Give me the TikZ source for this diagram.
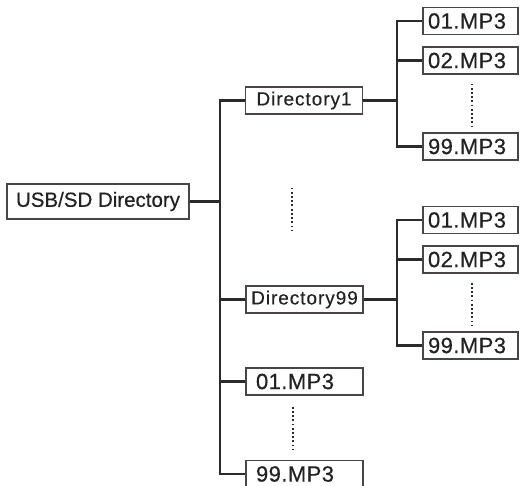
\documentclass[tikz,border=0pt]{standalone}
\usepackage{fontspec}
\setmainfont{Liberation Sans}
\newfontfamily\rootfont[FakeBold=0.4]{Liberation Sans}
\newfontfamily\mpfont[LetterSpace=2,FakeBold=0.4]{Liberation Sans}
\newfontfamily\dirfont[LetterSpace=5,FakeBold=0.3]{Liberation Sans}
\definecolor{boxcol}{HTML}{4A4444}
\definecolor{linecol}{HTML}{2B2B2B}
\definecolor{txtcol}{HTML}{222222}
\tikzset{
  boxbase/.style={draw=boxcol, line width=1.4pt, text=txtcol, fill=white},
  rootbox/.style={boxbase, minimum width=182pt, minimum height=35pt, inner sep=0pt, font=\rootfont\fontsize{20.5}{24}\selectfont},
  dirbox/.style={boxbase, minimum width=117pt, minimum height=27pt, inner sep=0pt, font=\dirfont\fontsize{19}{22}\selectfont},
  rmp/.style={boxbase, minimum height=27pt, inner xsep=5pt, inner ysep=0pt, text width=85pt, align=left, font=\mpfont\fontsize{22}{26}\selectfont},
  bmp/.style={boxbase, minimum height=27pt, inner xsep=10pt, inner ysep=0pt, text width=97pt, align=left, font=\mpfont\fontsize{22}{26}\selectfont},
  conn/.style={draw=linecol, line width=2.2pt},
  dotline/.style={draw=linecol, line width=1.8pt, dash pattern=on 1.8pt off 2.4pt}
}
\begin{document}
\begin{tikzpicture}[x=1pt,y=-1pt]
\useasboundingbox (0,0) rectangle (521,486);
% coordinates of trunks
\coordinate (trunk) at (220,0);
\coordinate (subA) at (397,0);
% nodes
\node[rootbox] (usb) at (98,201.5) {USB/SD Directory};
\node[dirbox] (d1) at (304,100.5) {Directory1};
\node[dirbox] (d99) at (304.5,299.5) {Directory99};
\node[rmp] (ga1) at (470.5,21) {01.MP3};
\node[rmp] (ga2) at (470.5,60.5) {02.MP3};
\node[rmp] (ga99) at (470.5,146.5) {99.MP3};
\node[rmp] (gb1) at (470.5,220) {01.MP3};
\node[rmp] (gb2) at (470.5,259.5) {02.MP3};
\node[rmp] (gb99) at (470.5,345.5) {99.MP3};
\node[bmp] (b1) at (304.5,381.5) {01.MP3};
\node[bmp] (b99) at (304.5,474) {99.MP3};
% main trunk
\draw[conn] (d1.west) -- (d1.west -| trunk) |- (b99.west);
\draw[conn] (usb.east) -- (usb.east -| trunk);
\draw[conn] (d99.west) -- (d99.west -| trunk);
\draw[conn] (b1.west) -- (b1.west -| trunk);
% group A
\draw[conn] (ga1.west) -- (ga1.west -| subA) |- (ga99.west);
\draw[conn] (d1.east) -- (d1.east -| subA);
\draw[conn] (ga2.west) -- (ga2.west -| subA);
% group B
\draw[conn] (gb1.west) -- (gb1.west -| subA) |- (gb99.west);
\draw[conn] (d99.east) -- (d99.east -| subA);
\draw[conn] (gb2.west) -- (gb2.west -| subA);
% dotted lines
\draw[dotline] ([xshift=1.5pt,yshift=-9pt]ga2.south) -- ([xshift=1.5pt,yshift=6pt]ga99.north);
\draw[dotline] ([xshift=1.5pt,yshift=-9pt]gb2.south) -- ([xshift=1.5pt,yshift=6pt]gb99.north);
\draw[dotline] ([xshift=-12pt,yshift=-73pt]d1.south) -- ([xshift=-12.5pt,yshift=55pt]d99.north);
\draw[dotline] ([xshift=-11.5pt,yshift=-11pt]b1.south) -- ([xshift=-11.5pt,yshift=9.5pt]b99.north);
\end{tikzpicture}
\end{document}
